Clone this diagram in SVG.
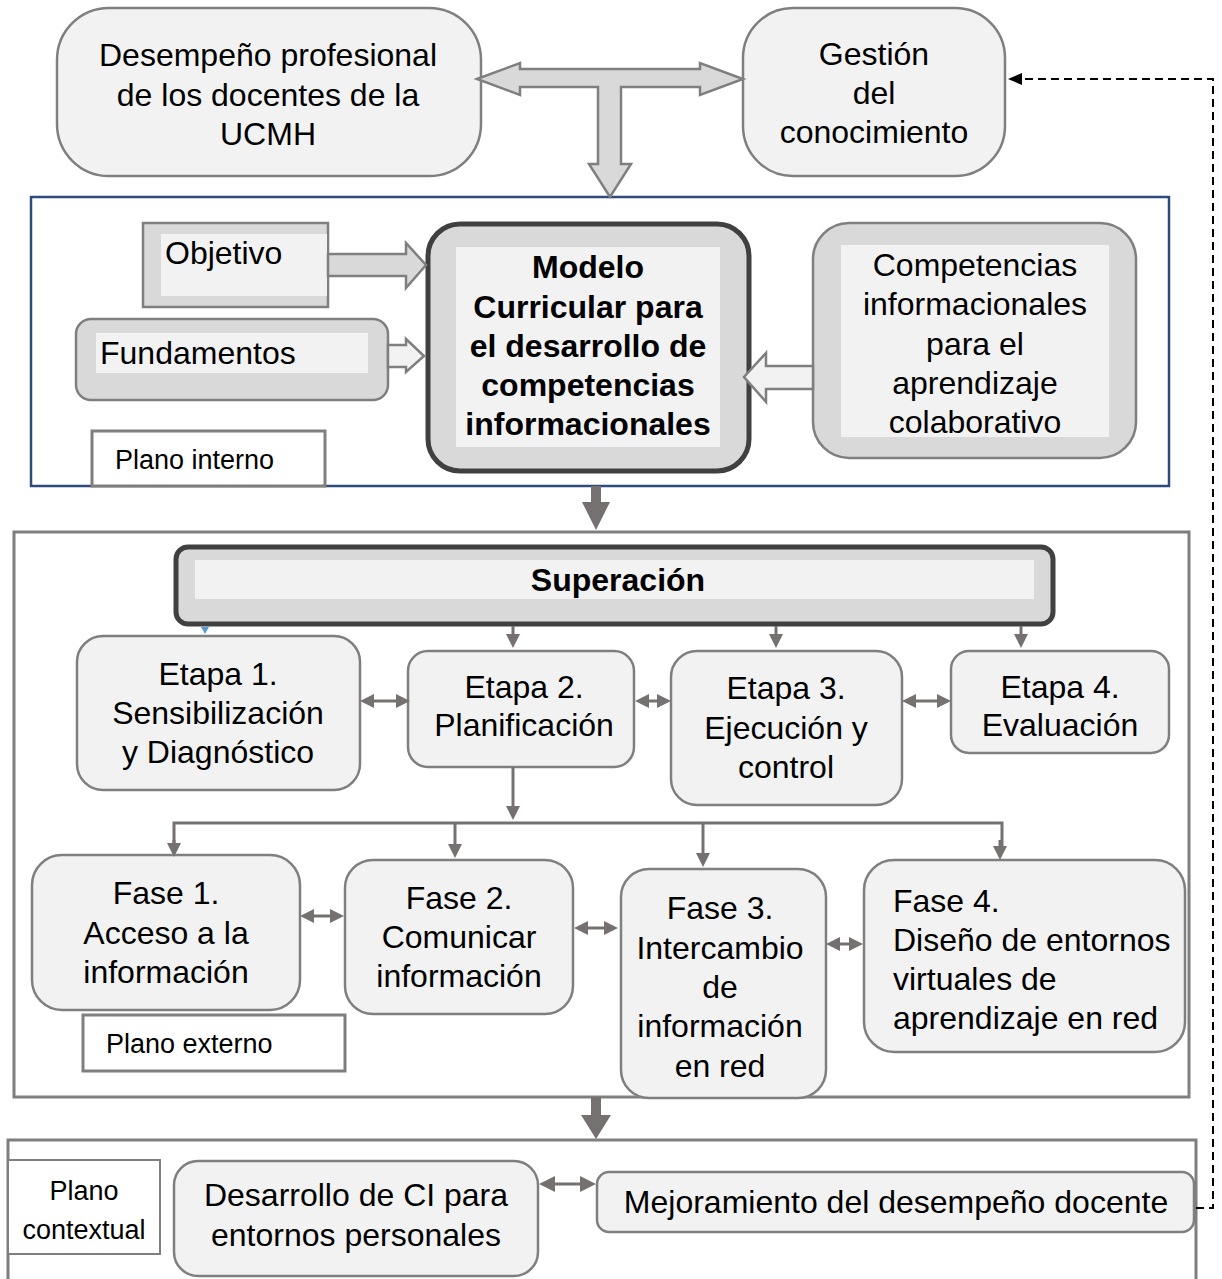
<svg xmlns="http://www.w3.org/2000/svg" width="1222" height="1279" viewBox="0 0 1222 1279">
<style>
.t{font-family:"Liberation Sans",Arial,sans-serif;font-size:32px;fill:#000}
.b{font-weight:bold}
.m{text-anchor:middle}
.l{font-family:"Liberation Sans",Arial,sans-serif;font-size:27px;fill:#000}
.box{fill:#f2f2f2;stroke:#7f7f7f;stroke-width:2.5}
.dark{fill:#d9d9d9;stroke:#404040;stroke-width:5}
.gray{fill:#d9d9d9;stroke:#7f7f7f;stroke-width:2.5}
.inner{fill:#f2f2f2;stroke:none}
.lab{fill:#fff;stroke:#7f7f7f;stroke-width:3}
.con{fill:none;stroke:#767171;stroke-width:3}
.blk{fill:#d9d9d9;stroke:#7f7f7f;stroke-width:2.5;stroke-linejoin:miter}
.wblk{fill:#f2f2f2;stroke:#7f7f7f;stroke-width:2.5}
</style>
<defs>
<marker id="ah" markerUnits="userSpaceOnUse" markerWidth="14" markerHeight="14" viewBox="0 0 14 14" refX="3" refY="7" orient="auto-start-reverse"><path d="M0,0 L14,7 L0,14 z" fill="#767171"/></marker>
<marker id="ah2" markerUnits="userSpaceOnUse" markerWidth="16" markerHeight="16" viewBox="0 0 16 16" refX="3" refY="8" orient="auto-start-reverse"><path d="M0,0 L16,8 L0,16 z" fill="#767171"/></marker>
<marker id="ahk" markerUnits="userSpaceOnUse" markerWidth="14" markerHeight="14" viewBox="0 0 14 14" refX="2" refY="7" orient="auto"><path d="M0,1 L14,7 L0,13 z" fill="#000"/></marker>
</defs>
<rect x="0" y="0" width="1222" height="1279" fill="#fff"/>

<g id="frames">
<rect x="31" y="197" width="1138" height="289" fill="none" stroke="#2f4b7c" stroke-width="2.5"/>
<rect x="14" y="532" width="1175" height="565" fill="none" stroke="#7f7f7f" stroke-width="3"/>
<rect x="8" y="1140" width="1188" height="160" fill="none" stroke="#7f7f7f" stroke-width="3"/>
</g>

<g id="n-desempeno">
<rect class="box" x="57" y="8" width="424" height="168" rx="52"/>
<text class="t m" x="268" y="66">Desempeño profesional</text>
<text class="t m" x="268" y="106">de los docentes de la</text>
<text class="t m" x="268" y="145">UCMH</text>
</g>

<g id="n-gestion">
<rect class="box" x="743" y="8" width="262" height="168" rx="50"/>
<text class="t m" x="874" y="65">Gestión</text>
<text class="t m" x="874" y="104">del</text>
<text class="t m" x="874" y="143">conocimiento</text>
</g>

<g id="n-objetivo">
<rect class="gray" x="143" y="223" width="185" height="84" stroke-width="3"/>
<rect class="inner" x="161" y="234" width="166" height="62"/>
<text class="t" x="165" y="264">Objetivo</text>
</g>

<g id="n-fundamentos">
<rect class="gray" x="76" y="319" width="312" height="81" rx="15"/>
<rect class="inner" x="96" y="333" width="272" height="40"/>
<text class="t" x="100" y="364">Fundamentos</text>
</g>

<g id="n-modelo">
<rect class="dark" x="428" y="224" width="321" height="247" rx="32"/>
<rect class="inner" x="456" y="247" width="264" height="200"/>
<text class="t b m" x="588" y="278">Modelo</text>
<text class="t b m" x="588" y="318">Curricular para</text>
<text class="t b m" x="588" y="357">el desarrollo de</text>
<text class="t b m" x="588" y="396">competencias</text>
<text class="t b m" x="588" y="435">informacionales</text>
</g>

<g id="n-competencias">
<rect class="gray" x="813" y="223" width="323" height="235" rx="36"/>
<rect class="inner" x="841" y="245" width="268" height="192"/>
<text class="t m" x="975" y="276">Competencias</text>
<text class="t m" x="975" y="315">informacionales</text>
<text class="t m" x="975" y="355">para el</text>
<text class="t m" x="975" y="394">aprendizaje</text>
<text class="t m" x="975" y="433">colaborativo</text>
</g>

<g id="n-plano-interno">
<rect class="lab" x="92" y="431" width="233" height="55"/>
<text class="l" x="115" y="469">Plano interno</text>
</g>

<g id="n-superacion">
<rect class="dark" x="176" y="547" width="877" height="77" rx="12"/>
<rect class="inner" x="195" y="560" width="839" height="39"/>
<text class="t b m" x="618" y="591">Superación</text>
</g>

<g id="n-etapa1">
<rect class="box" x="77" y="636" width="283" height="154" rx="26"/>
<text class="t m" x="218" y="685">Etapa 1.</text>
<text class="t m" x="218" y="724">Sensibilización</text>
<text class="t m" x="218" y="763">y Diagnóstico</text>
</g>
<g id="n-etapa2">
<rect class="box" x="408" y="651" width="226" height="116" rx="20"/>
<text class="t m" x="524" y="698">Etapa 2.</text>
<text class="t m" x="524" y="736">Planificación</text>
</g>
<g id="n-etapa3">
<rect class="box" x="671" y="651" width="231" height="154" rx="26"/>
<text class="t m" x="786" y="699">Etapa 3.</text>
<text class="t m" x="786" y="739">Ejecución y</text>
<text class="t m" x="786" y="778">control</text>
</g>
<g id="n-etapa4">
<rect class="box" x="951" y="651" width="218" height="102" rx="18"/>
<text class="t m" x="1060" y="698">Etapa 4.</text>
<text class="t m" x="1060" y="736">Evaluación</text>
</g>

<g id="n-fase1">
<rect class="box" x="32" y="855" width="268" height="155" rx="30"/>
<text class="t m" x="166" y="904">Fase 1.</text>
<text class="t m" x="166" y="944">Acceso a la</text>
<text class="t m" x="166" y="983">información</text>
</g>
<g id="n-fase2">
<rect class="box" x="345" y="860" width="228" height="154" rx="28"/>
<text class="t m" x="459" y="909">Fase 2.</text>
<text class="t m" x="459" y="948">Comunicar</text>
<text class="t m" x="459" y="987">información</text>
</g>
<g id="n-fase3">
<rect class="box" x="621" y="869" width="205" height="229" rx="28"/>
<text class="t m" x="720" y="919">Fase 3.</text>
<text class="t m" x="720" y="959">Intercambio</text>
<text class="t m" x="720" y="998">de</text>
<text class="t m" x="720" y="1037">información</text>
<text class="t m" x="720" y="1077">en red</text>
</g>
<g id="n-fase4">
<rect class="box" x="864" y="860" width="321" height="192" rx="30"/>
<text class="t" x="893" y="912">Fase 4.</text>
<text class="t" x="893" y="951">Diseño de entornos</text>
<text class="t" x="893" y="990">virtuales de</text>
<text class="t" x="893" y="1029">aprendizaje en red</text>
</g>

<g id="n-plano-externo">
<rect class="lab" x="83" y="1015" width="262" height="56"/>
<text class="l" x="106" y="1053">Plano externo</text>
</g>

<g id="n-plano-contextual">
<rect x="8" y="1160" width="152" height="94" fill="#fff" stroke="#7f7f7f" stroke-width="2"/>
<text class="l m" x="84" y="1200">Plano</text>
<text class="l m" x="84" y="1239">contextual</text>
</g>
<g id="n-desarrollo">
<rect class="box" x="174" y="1161" width="364" height="115" rx="24"/>
<text class="t m" x="356" y="1206">Desarrollo de CI para</text>
<text class="t m" x="356" y="1246">entornos personales</text>
</g>
<g id="n-mejoramiento">
<rect class="box" x="597" y="1172" width="597" height="60" rx="12"/>
<text class="t m" x="896" y="1213">Mejoramiento del desempeño docente</text>
</g>

<g id="connectors">
<path class="blk" d="M477,79 L520,63 L520,69 L700,69 L700,63 L743,79 L700,95 L700,87 L621,87 L621,164 L631,164 L610,197 L589,164 L598,164 L598,87 L520,87 L520,95 Z"/>
<path class="blk" d="M328,254 L406,254 L406,243 L426,265 L406,288 L406,276 L328,276 Z"/>
<path class="wblk" d="M388,345 L406,345 L406,339 L424,356 L406,372 L406,367 L388,367 Z"/>
<path class="wblk" d="M813,366 L766,366 L766,353 L744,377 L766,402 L766,389 L813,389 Z"/>
<line x1="596" y1="486" x2="596" y2="503" stroke="#767171" stroke-width="10"/>
<path d="M582,502 L610,502 L596,530 Z" fill="#767171"/>
<path d="M201,627 L209,627 L205,634 Z" fill="#5b9bd5"/>
<line class="con" x1="513" y1="626" x2="513" y2="637" marker-end="url(#ah)"/>
<line class="con" x1="776" y1="626" x2="776" y2="637" marker-end="url(#ah)"/>
<line class="con" x1="1021" y1="626" x2="1021" y2="637" marker-end="url(#ah)"/>
<line class="con" x1="371" y1="701" x2="399" y2="701" marker-start="url(#ah)" marker-end="url(#ah)"/>
<line class="con" x1="646" y1="701" x2="660" y2="701" marker-start="url(#ah)" marker-end="url(#ah)"/>
<line class="con" x1="913" y1="701" x2="940" y2="701" marker-start="url(#ah)" marker-end="url(#ah)"/>
<line class="con" x1="513" y1="767" x2="513" y2="809" stroke-width="4" marker-end="url(#ah)"/>
<polyline class="con" points="174,846 174,823 1002,823 1002,846" stroke-width="5"/>
<line class="con" x1="174" y1="840" x2="174" y2="846" stroke-width="4" marker-end="url(#ah)"/>
<line class="con" x1="455" y1="823" x2="455" y2="847" stroke-width="4" marker-end="url(#ah)"/>
<line class="con" x1="703" y1="823" x2="703" y2="856" stroke-width="4" marker-end="url(#ah)"/>
<line class="con" x1="1000" y1="840" x2="1000" y2="849" stroke-width="4" marker-end="url(#ah)"/>
<line class="con" x1="311" y1="916" x2="333" y2="916" marker-start="url(#ah)" marker-end="url(#ah)"/>
<line class="con" x1="585" y1="928" x2="607" y2="928" marker-start="url(#ah)" marker-end="url(#ah)"/>
<line class="con" x1="837" y1="944" x2="852" y2="944" marker-start="url(#ah)" marker-end="url(#ah)"/>
<line x1="596" y1="1097" x2="596" y2="1116" stroke="#767171" stroke-width="10"/>
<path d="M581,1115 L611,1115 L596,1139 Z" fill="#767171"/>
<line class="con" x1="552" y1="1184" x2="583" y2="1184" stroke-width="5" marker-start="url(#ah2)" marker-end="url(#ah2)"/>
<polyline points="1196,1208 1213,1208 1213,79 1020,79" fill="none" stroke="#000" stroke-width="2" stroke-dasharray="8,5" marker-end="url(#ahk)"/>
</g>
</svg>
